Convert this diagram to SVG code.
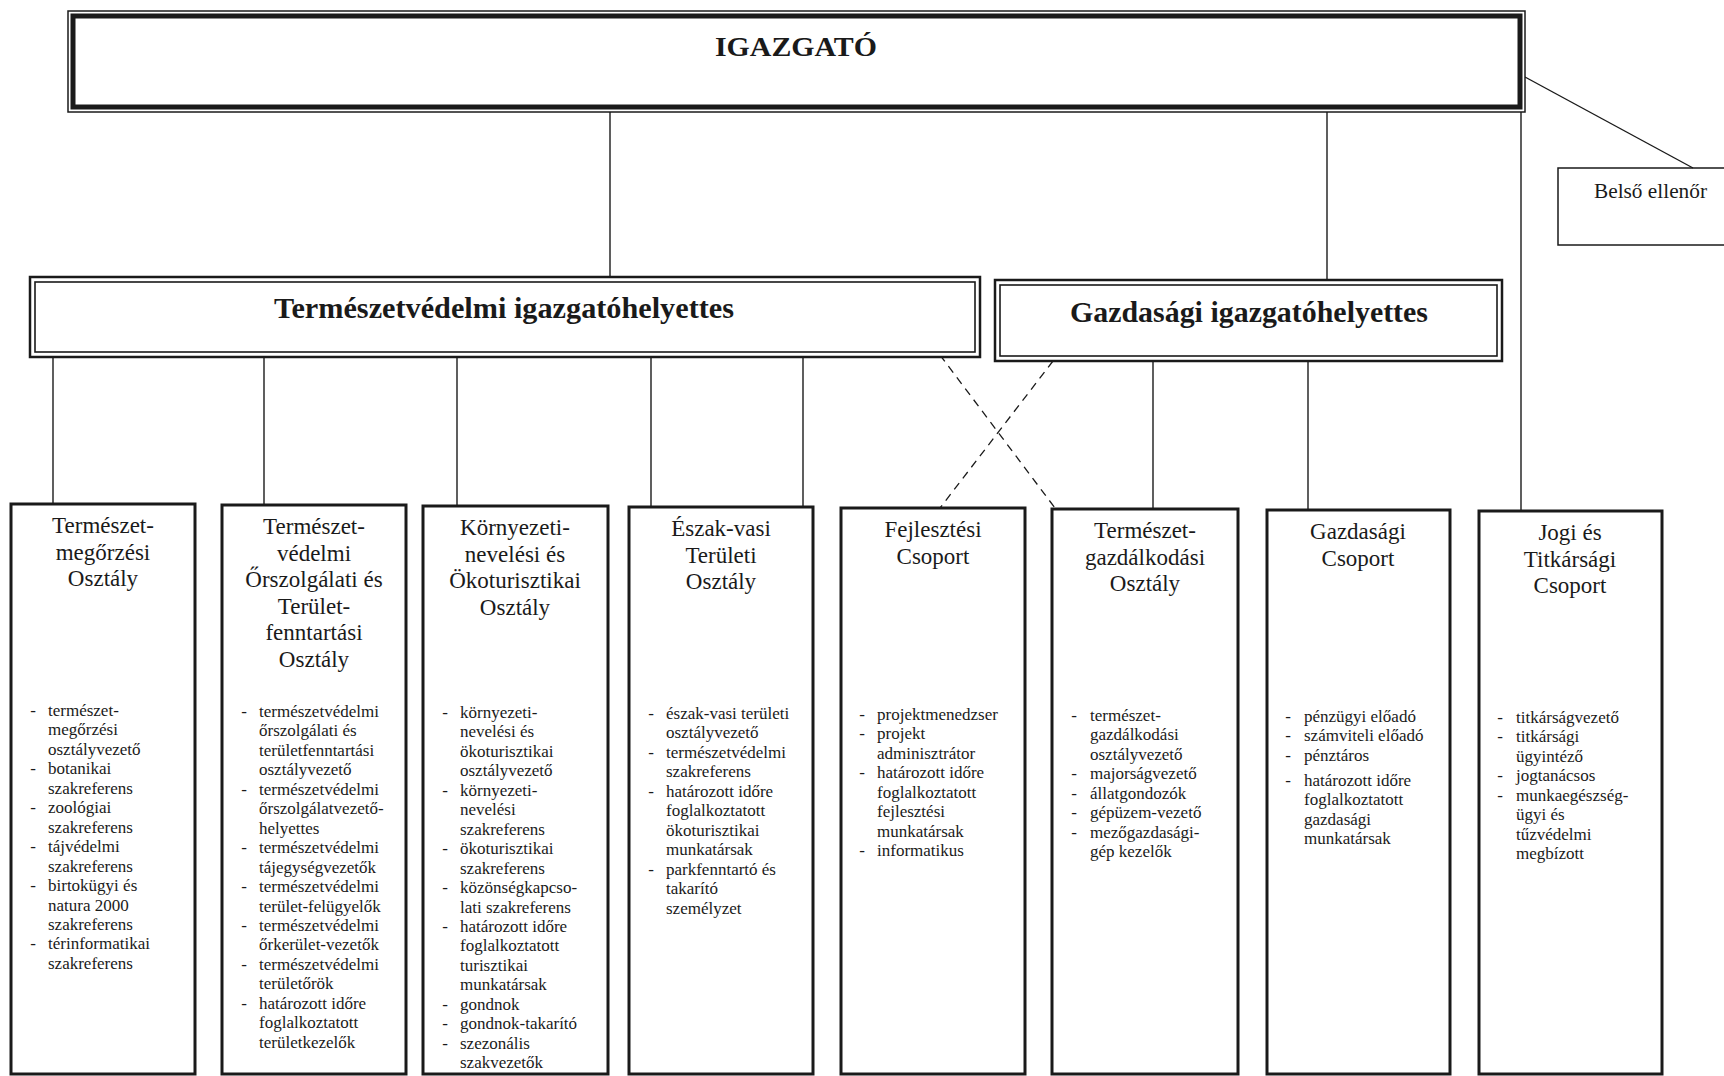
<svg xmlns="http://www.w3.org/2000/svg" width="1724" height="1076" viewBox="0 0 1724 1076">
<style>
  text { font-family: "Liberation Serif", "Times New Roman", serif; fill: #1a1a1a; }
  .title { font-weight: bold; }
  .hdr { font-size: 23px; text-anchor: middle; }
  .lst { font-size: 17px; }
  .dash { font-size: 17px; text-anchor: middle; }
  .box { fill: #fff; stroke: #1a1a1a; stroke-width: 3; }
  .thin { fill: none; stroke: #1a1a1a; stroke-width: 1.5; }
  .conn line { stroke: #1a1a1a; stroke-width: 1.4; }
  .conn line.dashed { stroke-dasharray: 8 6; stroke-width: 1.3; }
</style>
<rect width="1724" height="1076" fill="#fff"/>

<g id="connectors" class="conn">
  <line x1="610" y1="112" x2="610" y2="277"/>
  <line x1="1327" y1="112" x2="1327" y2="280"/>
  <line x1="1521" y1="112" x2="1521" y2="511"/>
  <line x1="1525" y1="77" x2="1693" y2="168"/>
  <line x1="53" y1="357" x2="53" y2="504"/>
  <line x1="264" y1="357" x2="264" y2="505"/>
  <line x1="457" y1="357" x2="457" y2="506"/>
  <line x1="651" y1="357" x2="651" y2="507"/>
  <line x1="803" y1="357" x2="803" y2="507"/>
  <line x1="1153" y1="361" x2="1153" y2="509"/>
  <line x1="1308" y1="361" x2="1308" y2="510"/>
  <line class="dashed" x1="940" y1="355" x2="1055" y2="508"/>
  <line class="dashed" x1="1053" y1="361" x2="940" y2="508"/>
</g>

<g id="igazgato">
  <rect x="68" y="11" width="1457" height="101" fill="#fff" stroke="#1a1a1a" stroke-width="1.5"/>
  <rect x="73" y="16" width="1447" height="91" fill="none" stroke="#1a1a1a" stroke-width="5"/>
  <text class="title" x="796" y="56" font-size="28" text-anchor="middle" textLength="162" lengthAdjust="spacingAndGlyphs">IGAZGATÓ</text>
</g>

<g id="belso-ellenor">
  <rect x="1558" y="168" width="180" height="77" class="thin" fill="#fff"/>
  <text x="1594" y="198" font-size="20" textLength="113" lengthAdjust="spacingAndGlyphs">Belső ellenőr</text>
</g>

<g id="termeszetvedelmi-ih">
  <rect x="30" y="277" width="950" height="80" fill="#fff" stroke="#1a1a1a" stroke-width="2.5"/>
  <rect x="35" y="282" width="940" height="70" fill="none" stroke="#1a1a1a" stroke-width="1.6"/>
  <text class="title" x="504" y="318" font-size="29" text-anchor="middle" textLength="460" lengthAdjust="spacingAndGlyphs">Természetvédelmi igazgatóhelyettes</text>
</g>

<g id="gazdasagi-ih">
  <rect x="995" y="280" width="507" height="81" fill="#fff" stroke="#1a1a1a" stroke-width="2.5"/>
  <rect x="1000" y="285" width="497" height="71" fill="none" stroke="#1a1a1a" stroke-width="1.6"/>
  <text class="title" x="1249" y="322" font-size="29" text-anchor="middle" textLength="358" lengthAdjust="spacingAndGlyphs">Gazdasági igazgatóhelyettes</text>
</g>

<!-- Box 1 -->
<g id="termeszetmegorzesi">
  <rect class="box" x="11" y="504" width="184" height="570"/>
  <text class="hdr"><tspan x="103" y="533">Természet-</tspan><tspan x="103" y="559.5">megőrzési</tspan><tspan x="103" y="586">Osztály</tspan></text>
  <text class="dash"><tspan x="33" y="716">-</tspan><tspan x="33" y="774">-</tspan><tspan x="33" y="813">-</tspan><tspan x="33" y="852">-</tspan><tspan x="33" y="891">-</tspan><tspan x="33" y="949">-</tspan></text>
  <text class="lst"><tspan x="48" y="716">természet-</tspan><tspan x="48" y="735">megőrzési</tspan><tspan x="48" y="755">osztályvezető</tspan><tspan x="48" y="774">botanikai</tspan><tspan x="48" y="794">szakreferens</tspan><tspan x="48" y="813">zoológiai</tspan><tspan x="48" y="833">szakreferens</tspan><tspan x="48" y="852">tájvédelmi</tspan><tspan x="48" y="872">szakreferens</tspan><tspan x="48" y="891">birtokügyi és</tspan><tspan x="48" y="911">natura 2000</tspan><tspan x="48" y="930">szakreferens</tspan><tspan x="48" y="949">térinformatikai</tspan><tspan x="48" y="969">szakreferens</tspan></text>
</g>

<!-- Box 2 -->
<g id="orszolgalati">
  <rect class="box" x="222" y="505" width="184" height="569"/>
  <text class="hdr"><tspan x="314" y="534">Természet-</tspan><tspan x="314" y="560.5">védelmi</tspan><tspan x="314" y="587">Őrszolgálati és</tspan><tspan x="314" y="613.5">Terület-</tspan><tspan x="314" y="640">fenntartási</tspan><tspan x="314" y="666.5">Osztály</tspan></text>
  <text class="dash"><tspan x="244" y="717">-</tspan><tspan x="244" y="795">-</tspan><tspan x="244" y="853">-</tspan><tspan x="244" y="892">-</tspan><tspan x="244" y="931">-</tspan><tspan x="244" y="970">-</tspan><tspan x="244" y="1009">-</tspan></text>
  <text class="lst"><tspan x="259" y="717">természetvédelmi</tspan><tspan x="259" y="736">őrszolgálati és</tspan><tspan x="259" y="756">területfenntartási</tspan><tspan x="259" y="775">osztályvezető</tspan><tspan x="259" y="795">természetvédelmi</tspan><tspan x="259" y="814">őrszolgálatvezető-</tspan><tspan x="259" y="834">helyettes</tspan><tspan x="259" y="853">természetvédelmi</tspan><tspan x="259" y="873">tájegységvezetők</tspan><tspan x="259" y="892">természetvédelmi</tspan><tspan x="259" y="912">terület-felügyelők</tspan><tspan x="259" y="931">természetvédelmi</tspan><tspan x="259" y="950">őrkerület-vezetők</tspan><tspan x="259" y="970">természetvédelmi</tspan><tspan x="259" y="989">területőrök</tspan><tspan x="259" y="1009">határozott időre</tspan><tspan x="259" y="1028">foglalkoztatott</tspan><tspan x="259" y="1048">területkezelők</tspan></text>
</g>

<!-- Box 3 -->
<g id="kornyezeti-neveles">
  <rect class="box" x="423" y="506" width="185" height="568"/>
  <text class="hdr"><tspan x="515" y="535">Környezeti-</tspan><tspan x="515" y="561.5">nevelési és</tspan><tspan x="515" y="588">Ökoturisztikai</tspan><tspan x="515" y="614.5">Osztály</tspan></text>
  <text class="dash"><tspan x="445" y="718">-</tspan><tspan x="445" y="796">-</tspan><tspan x="445" y="854">-</tspan><tspan x="445" y="893">-</tspan><tspan x="445" y="932">-</tspan><tspan x="445" y="1010">-</tspan><tspan x="445" y="1029">-</tspan><tspan x="445" y="1049">-</tspan></text>
  <text class="lst"><tspan x="460" y="718">környezeti-</tspan><tspan x="460" y="737">nevelési és</tspan><tspan x="460" y="757">ökoturisztikai</tspan><tspan x="460" y="776">osztályvezető</tspan><tspan x="460" y="796">környezeti-</tspan><tspan x="460" y="815">nevelési</tspan><tspan x="460" y="835">szakreferens</tspan><tspan x="460" y="854">ökoturisztikai</tspan><tspan x="460" y="874">szakreferens</tspan><tspan x="460" y="893">közönségkapcso-</tspan><tspan x="460" y="913">lati szakreferens</tspan><tspan x="460" y="932">határozott időre</tspan><tspan x="460" y="951">foglalkoztatott</tspan><tspan x="460" y="971">turisztikai</tspan><tspan x="460" y="990">munkatársak</tspan><tspan x="460" y="1010">gondnok</tspan><tspan x="460" y="1029">gondnok-takarító</tspan><tspan x="460" y="1049">szezonális</tspan><tspan x="460" y="1068">szakvezetők</tspan></text>
</g>

<!-- Box 4 -->
<g id="eszak-vasi">
  <rect class="box" x="629" y="507" width="184" height="567"/>
  <text class="hdr"><tspan x="721" y="536">Észak-vasi</tspan><tspan x="721" y="562.5">Területi</tspan><tspan x="721" y="589">Osztály</tspan></text>
  <text class="dash"><tspan x="651" y="719">-</tspan><tspan x="651" y="758">-</tspan><tspan x="651" y="797">-</tspan><tspan x="651" y="875">-</tspan></text>
  <text class="lst"><tspan x="666" y="719">észak-vasi területi</tspan><tspan x="666" y="738">osztályvezető</tspan><tspan x="666" y="758">természetvédelmi</tspan><tspan x="666" y="777">szakreferens</tspan><tspan x="666" y="797">határozott időre</tspan><tspan x="666" y="816">foglalkoztatott</tspan><tspan x="666" y="836">ökoturisztikai</tspan><tspan x="666" y="855">munkatársak</tspan><tspan x="666" y="875">parkfenntartó és</tspan><tspan x="666" y="894">takarító</tspan><tspan x="666" y="914">személyzet</tspan></text>
</g>

<!-- Box 5 -->
<g id="fejlesztesi">
  <rect class="box" x="841" y="508" width="184" height="566"/>
  <text class="hdr"><tspan x="933" y="537">Fejlesztési</tspan><tspan x="933" y="563.5">Csoport</tspan></text>
  <text class="dash"><tspan x="862" y="720">-</tspan><tspan x="862" y="739">-</tspan><tspan x="862" y="778">-</tspan><tspan x="862" y="856">-</tspan></text>
  <text class="lst"><tspan x="877" y="720">projektmenedzser</tspan><tspan x="877" y="739">projekt</tspan><tspan x="877" y="759">adminisztrátor</tspan><tspan x="877" y="778">határozott időre</tspan><tspan x="877" y="798">foglalkoztatott</tspan><tspan x="877" y="817">fejlesztési</tspan><tspan x="877" y="837">munkatársak</tspan><tspan x="877" y="856">informatikus</tspan></text>
</g>

<!-- Box 6 -->
<g id="termeszetgazdalkodasi">
  <rect class="box" x="1052" y="509" width="186" height="565"/>
  <text class="hdr"><tspan x="1145" y="538">Természet-</tspan><tspan x="1145" y="564.5">gazdálkodási</tspan><tspan x="1145" y="591">Osztály</tspan></text>
  <text class="dash"><tspan x="1074" y="721">-</tspan><tspan x="1074" y="779">-</tspan><tspan x="1074" y="799">-</tspan><tspan x="1074" y="818">-</tspan><tspan x="1074" y="838">-</tspan></text>
  <text class="lst"><tspan x="1090" y="721">természet-</tspan><tspan x="1090" y="740">gazdálkodási</tspan><tspan x="1090" y="760">osztályvezető</tspan><tspan x="1090" y="779">majorságvezető</tspan><tspan x="1090" y="799">állatgondozók</tspan><tspan x="1090" y="818">gépüzem-vezető</tspan><tspan x="1090" y="838">mezőgazdasági-</tspan><tspan x="1090" y="857">gép kezelők</tspan></text>
</g>

<!-- Box 7 -->
<g id="gazdasagi-csoport">
  <rect class="box" x="1267" y="510" width="183" height="564"/>
  <text class="hdr"><tspan x="1358" y="539">Gazdasági</tspan><tspan x="1358" y="565.5">Csoport</tspan></text>
  <text class="dash"><tspan x="1288" y="722">-</tspan><tspan x="1288" y="741">-</tspan><tspan x="1288" y="761">-</tspan><tspan x="1288" y="786">-</tspan></text>
  <text class="lst"><tspan x="1304" y="722">pénzügyi előadó</tspan><tspan x="1304" y="741">számviteli előadó</tspan><tspan x="1304" y="761">pénztáros</tspan><tspan x="1304" y="786">határozott időre</tspan><tspan x="1304" y="805">foglalkoztatott</tspan><tspan x="1304" y="825">gazdasági</tspan><tspan x="1304" y="844">munkatársak</tspan></text>
</g>

<!-- Box 8 -->
<g id="jogi-titkarsagi">
  <rect class="box" x="1479" y="511" width="183" height="563"/>
  <text class="hdr"><tspan x="1570" y="540">Jogi és</tspan><tspan x="1570" y="566.5">Titkársági</tspan><tspan x="1570" y="593">Csoport</tspan></text>
  <text class="dash"><tspan x="1500" y="723">-</tspan><tspan x="1500" y="742">-</tspan><tspan x="1500" y="781">-</tspan><tspan x="1500" y="801">-</tspan></text>
  <text class="lst"><tspan x="1516" y="723">titkárságvezető</tspan><tspan x="1516" y="742">titkársági</tspan><tspan x="1516" y="762">ügyintéző</tspan><tspan x="1516" y="781">jogtanácsos</tspan><tspan x="1516" y="801">munkaegészség-</tspan><tspan x="1516" y="820">ügyi és</tspan><tspan x="1516" y="840">tűzvédelmi</tspan><tspan x="1516" y="859">megbízott</tspan></text>
</g>
</svg>
